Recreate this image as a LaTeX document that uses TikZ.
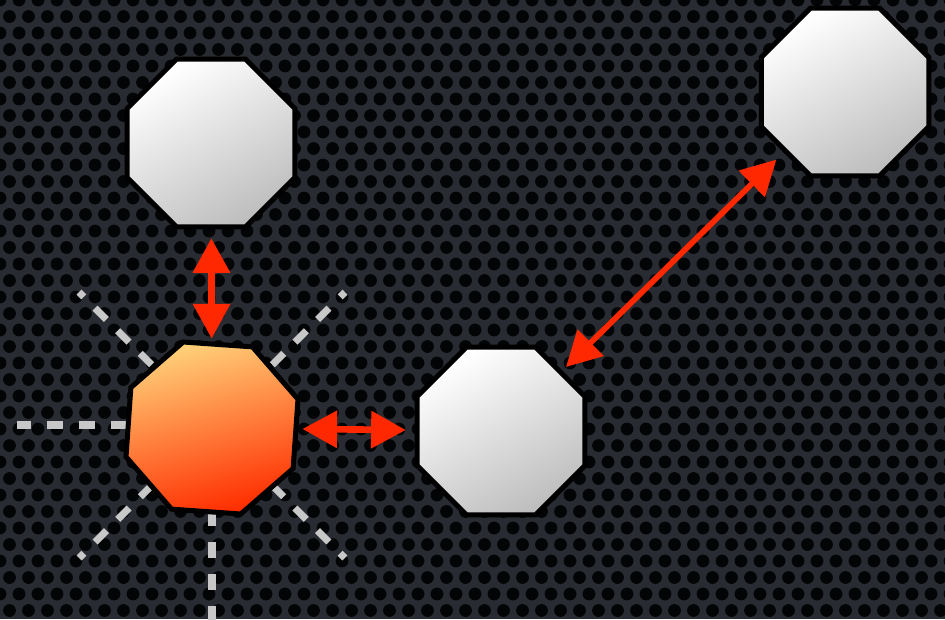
\documentclass[tikz,border=0pt]{standalone}
\usetikzlibrary{shapes.geometric,arrows.meta}
\definecolor{bgmetal}{RGB}{40,43,49}
\definecolor{holec}{RGB}{3,4,6}
\definecolor{arrowred}{RGB}{255,40,0}
\definecolor{spokegray}{RGB}{200,200,200}
\definecolor{octlight}{RGB}{255,255,255}
\definecolor{octdark}{RGB}{190,190,190}
\definecolor{orlight}{RGB}{255,207,120}
\definecolor{ordark}{RGB}{255,45,0}
\tikzset{
  oct/.style={regular polygon, regular polygon sides=8, minimum size=136pt,
    inner sep=0pt, draw=black, line width=3.75pt},
  whiteoct/.style={oct, top color=octlight, bottom color=octdark, shading angle=30},
  orangeoct/.style={oct, top color=orlight, bottom color=ordark, shading angle=15,
    shape border rotate=-4},
  link/.style={draw=arrowred, line width=5pt,
    {Triangle[length=26pt,width=27pt]}-{Triangle[length=26pt,width=27pt]}},
  spoke/.style={draw=spokegray, line width=5.3pt, dash pattern=on 12pt off 12pt,
    dash phase=8pt},
}
\begin{document}
\begin{tikzpicture}[x=0.75pt,y=-0.75pt]
  \useasboundingbox (0,0) rectangle (945,619);
  % perforated metal background
  \fill[bgmetal] (0,0) rectangle (945,619);
  \begin{scope}
    \clip (0,0) rectangle (945,619);
    \fill[holec] \foreach \r in {0,...,38} { \foreach \c in {0,...,50} {
        ({\c*19 + mod(\r,2)*9.5}, {\r*16.5}) circle (6.4) } };
  \end{scope}
  % centre of the spokes
  \coordinate (hub) at (212,425);
  \draw[spoke] (hub) -- +(180:195);
  \draw[spoke] (hub) -- +(225:188);
  \draw[spoke] (hub) -- +(315:188);
  \draw[spoke] (hub) -- +(135:188);
  \draw[spoke] (hub) -- +(45:188);
  \draw[spoke] (hub) -- +(90:200);
  % octagons
  \node[whiteoct] (tl) at (211,143) {};
  \node[orangeoct] (or) at (212,428) {};
  \node[whiteoct] (mid) at (501,431) {};
  \node[whiteoct] (tr) at (845,92) {};
  % connectors
  \draw[link, shorten <=2.2pt, shorten >=6.7pt] (or) -- (tl);
  \draw[link, shorten <=3pt, shorten >=6.7pt] (or) -- (mid);
  \draw[link, line width=4.3pt, shorten <=3.7pt, shorten >=7.5pt] (mid) -- (tr);
\end{tikzpicture}
\end{document}
